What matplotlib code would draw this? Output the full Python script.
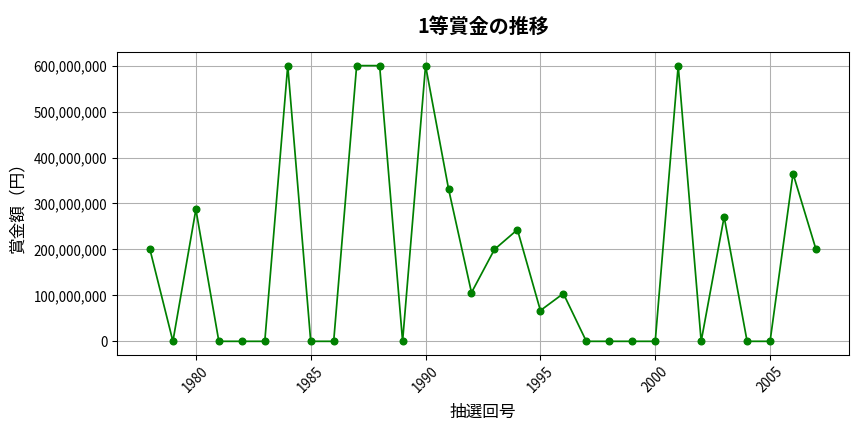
import matplotlib
matplotlib.use("Agg")
import matplotlib.pyplot as plt
from matplotlib.ticker import FuncFormatter

plt.rcParams["font.family"] = ["Noto Sans CJK JP", "DejaVu Sans"]

years = list(range(1978, 2008))
prize = [
    200_000_000, 0, 287_000_000, 0, 0, 0, 600_000_000, 0, 0, 600_000_000,
    600_000_000, 0, 600_000_000, 332_000_000, 106_000_000, 200_000_000,
    243_000_000, 67_000_000, 104_000_000, 0, 0, 0, 0, 600_000_000, 0,
    271_000_000, 0, 0, 365_000_000, 200_000_000,
]

fig, ax = plt.subplots(figsize=(9, 4.5), dpi=96)
ax.plot(years, prize, color="green", marker="o", markersize=5, linewidth=1.3)

ax.set_title("1等賞金の推移", fontsize=15, fontweight="bold", pad=14)
ax.set_xlabel("抽選回号", fontsize=12.5, labelpad=6)
ax.set_ylabel("賞金額（円）", fontsize=12.5, labelpad=5)
ax.yaxis.set_major_formatter(FuncFormatter(lambda v, p: f"{int(v):,}"))
for lab in ax.get_xticklabels() + ax.get_yticklabels():
    lab.set_fontsize(10)
ax.tick_params(axis="x", labelrotation=45, labelsize=10)
ax.tick_params(axis="y", labelsize=10)
ax.grid(True, color="#b0b0b0", linewidth=0.8)

fig.subplots_adjust(left=0.135, right=0.983, top=0.88, bottom=0.178)
fig.savefig("out.png", dpi=96)
